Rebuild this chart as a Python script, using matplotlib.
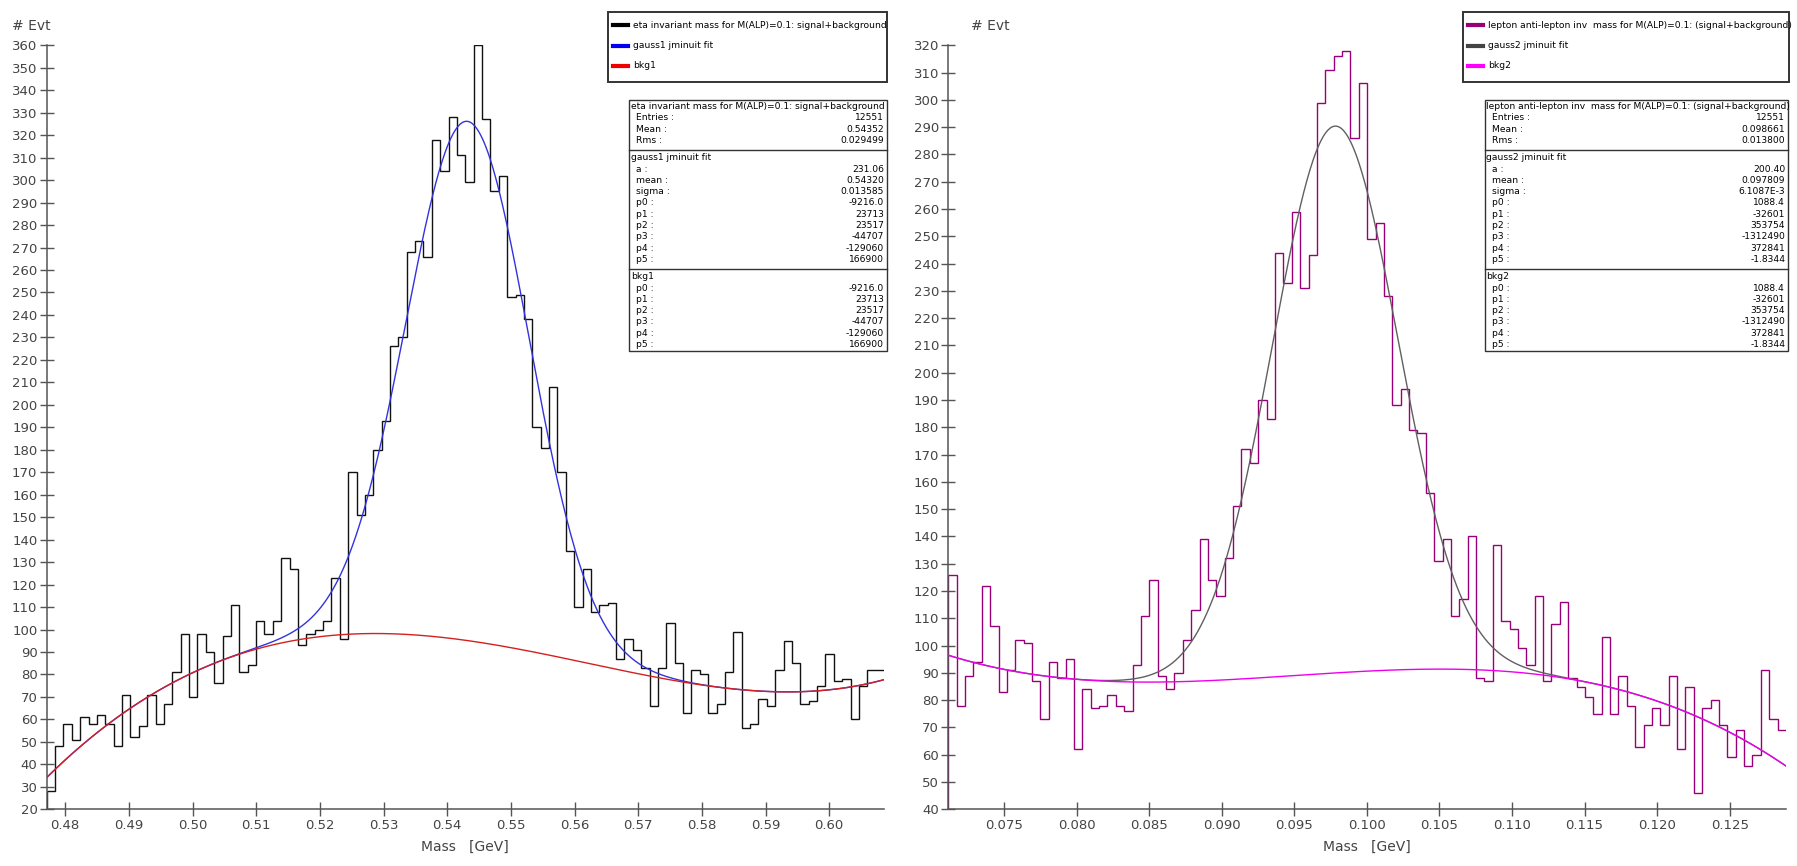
import numpy as np
import matplotlib
matplotlib.use('Agg')
import matplotlib.pyplot as plt
from matplotlib.patches import Rectangle
from matplotlib.lines import Line2D

W, H = 1797, 866

# eta invariant mass histogram (100 bins)
eta_range = (0.4771, 0.6086)
eta_counts = [28, 48, 58, 51, 61, 58, 62, 58, 48, 71,
              52, 57, 71, 58, 67, 81, 98, 70, 98, 90,
              76, 97, 111, 81, 84, 104, 98, 104, 132, 127,
              93, 98, 100, 104, 123, 96, 170, 151, 160, 180,
              193, 226, 230, 268, 273, 266, 318, 304, 328, 311,
              299, 360, 327, 295, 302, 248, 249, 238, 190, 181,
              208, 170, 135, 110, 127, 108, 111, 112, 87, 96,
              91, 83, 66, 83, 103, 85, 63, 82, 80, 63,
              67, 81, 99, 56, 58, 69, 66, 82, 95, 85,
              67, 68, 75, 89, 77, 78, 60, 75, 82, 82]

# lepton anti-lepton invariant mass histogram (100 bins)
lep_range = (0.07116, 0.12888)
lep_counts = [126, 78, 89, 94, 122, 107, 83, 91, 102, 101,
              87, 73, 94, 88, 95, 62, 84, 77, 78, 82,
              78, 76, 93, 111, 124, 89, 84, 90, 102, 113,
              139, 124, 118, 132, 151, 172, 167, 190, 183, 244,
              233, 259, 231, 243, 299, 311, 316, 318, 286, 306,
              249, 255, 228, 188, 194, 179, 178, 156, 131, 139,
              111, 117, 140, 88, 87, 137, 109, 106, 99, 93,
              118, 87, 108, 116, 88, 85, 81, 75, 103, 75,
              89, 78, 63, 71, 77, 71, 89, 62, 85, 46,
              77, 80, 71, 59, 69, 56, 60, 91, 73, 69]

# fit parameters as printed in the stats boxes
gauss1_par = [231.06, 0.54320, 0.013585]
bkg1_par = [-9216.0, 23713, 23517, -44707, -129060, 166900]
gauss2_par = [200.40, 0.097809, 6.1087e-3]
bkg2_par = [1088.4, -32601, 353754, -1312490, 372841, -1.8344]

eta_title = 'eta invariant mass for M(ALP)=0.1: signal+background'
lep_title = 'lepton anti-lepton inv  mass for M(ALP)=0.1: (signal+background)'

eta_stats = [('Entries :', '12551'), ('Mean :', '0.54352'), ('Rms :', '0.029499')]
lep_stats = [('Entries :', '12551'), ('Mean :', '0.098661'), ('Rms :', '0.013800')]
par_names = ['p0 :', 'p1 :', 'p2 :', 'p3 :', 'p4 :', 'p5 :']
bkg1_txt = ['-9216.0', '23713', '23517', '-44707', '-129060', '166900']
bkg2_txt = ['1088.4', '-32601', '353754', '-1312490', '372841', '-1.8344']
gauss1_txt = [('a :', '231.06'), ('mean :', '0.54320'), ('sigma :', '0.013585')]
gauss2_txt = [('a :', '200.40'), ('mean :', '0.097809'), ('sigma :', '6.1087E-3')]

eta_ticks = [0.48, 0.49, 0.50, 0.51, 0.52, 0.53, 0.54, 0.55, 0.56, 0.57, 0.58, 0.59, 0.60]
lep_ticks = [0.075, 0.080, 0.085, 0.090, 0.095, 0.100, 0.105, 0.110, 0.115, 0.120, 0.125]

AXCOL = '#555555'
SMALL = 6.6


def fx(x):
	return x / W


def fy(y):
	return 1 - y / H


def bkg(x, p):
	return np.polyval(p[::-1], x)


def gauss_fit(x, g, p):
	return g[0] * np.exp(-((x - g[1]) / g[2]) ** 2) + bkg(x, p)


def drawPanel(fig, left, right, rng, counts, ylo, yhi, ticks, fmt,
			  hcol, gcol, bcol, gpar, bpar, evt_x):
	ax = fig.add_axes([fx(left), fy(809.3), fx(right - left), (809.3 - 45.3) / H])
	edges = np.linspace(rng[0], rng[1], len(counts) + 1)
	ax.stairs(counts, edges, baseline=None, color=hcol, lw=1.0, zorder=2)
	ax.vlines(edges[0], ylo, counts[0], color=hcol, lw=1.0, zorder=2)
	xs = np.linspace(rng[0], rng[1], 800)
	ax.plot(xs, gauss_fit(xs, gpar, bpar), color=gcol, lw=1.0, zorder=3)
	ax.plot(xs, bkg(xs, bpar), color=bcol, lw=1.0, zorder=4)
	ax.set_xlim(rng)
	ax.set_ylim(ylo, yhi)
	ax.set_xticks(ticks)
	ax.set_xticklabels([fmt % t for t in ticks])
	ax.set_yticks(np.arange(ylo, yhi + 1, 10))
	for s in ['top', 'right']:
		ax.spines[s].set_visible(False)
	for s in ['left', 'bottom']:
		ax.spines[s].set_color(AXCOL)
		ax.spines[s].set_linewidth(1.1)
	ax.tick_params(direction='inout', length=9.4, width=1.0, color=AXCOL,
				   labelcolor='#444444', labelsize=9.5, pad=2)
	fig.text(fx((left + right) / 2), fy(847), 'Mass   [GeV]', ha='center', va='center',
			 fontsize=10, color='#444444')
	fig.text(fx(evt_x), fy(26), '# Evt', ha='left', va='center', fontsize=10, color='#444444')
	return ax


def drawLegend(fig, x0, x1, entries):
	fig.patches.append(Rectangle((fx(x0), fy(81.7)), fx(x1 - x0), (81.7 - 12.3) / H,
								 transform=fig.transFigure, fill=False, ec='#333333', lw=1.4))
	for i, (label, col) in enumerate(entries):
		y = 25 + i * 20.5
		fig.lines.append(Line2D([fx(x0 + 4.5), fx(x0 + 20)], [fy(y), fy(y)],
								transform=fig.transFigure, color=col, lw=3))
		fig.text(fx(x0 + 25), fy(y), label, ha='left', va='center', fontsize=SMALL)


def drawStats(fig, x0, x1, sections):
	top = 100
	y = top + 6.5
	dividers = []
	for k, (title, rows) in enumerate(sections):
		if k > 0:
			dividers.append(y - 11.3 + 9.3)
			y = dividers[-1] + 8
		fig.text(fx(x0 + 1.5), fy(y), title, ha='left', va='center', fontsize=SMALL)
		y += 11.3
		for lab, val in rows:
			fig.text(fx(x0 + 7), fy(y), lab, ha='left', va='center', fontsize=SMALL)
			fig.text(fx(x1 - 3), fy(y), val, ha='right', va='center', fontsize=SMALL)
			y += 11.3
	bottom = y - 11.3 + 6
	fig.patches.append(Rectangle((fx(x0), fy(bottom)), fx(x1 - x0), (bottom - top) / H,
								 transform=fig.transFigure, fill=False, ec='#333333', lw=1.0))
	for d in dividers:
		fig.lines.append(Line2D([fx(x0), fx(x1)], [fy(d), fy(d)],
								transform=fig.transFigure, color='#333333', lw=1.0))


fig = plt.figure(figsize=(W / 100, H / 100), dpi=100)

drawPanel(fig, 46.7, 884.0, eta_range, eta_counts, 20, 360, eta_ticks, '%.2f',
		  '#111111', '#3333dd', '#d42020', gauss1_par, bkg1_par, 12)
drawPanel(fig, 948.3, 1786.0, lep_range, lep_counts, 40, 320, lep_ticks, '%.3f',
		  '#990077', '#606060', '#ee00ee', gauss2_par, bkg2_par, 971)

drawLegend(fig, 608.3, 887.3, [(eta_title, 'black'), ('gauss1 jminuit fit', '#0000ee'),
							   ('bkg1', '#ee0000')])
drawLegend(fig, 1463.3, 1789.0, [(lep_title, '#990077'), ('gauss2 jminuit fit', '#444444'),
								 ('bkg2', '#ff00ff')])

drawStats(fig, 629.3, 887.0, [(eta_title, eta_stats),
							  ('gauss1 jminuit fit', gauss1_txt + list(zip(par_names, bkg1_txt))),
							  ('bkg1', list(zip(par_names, bkg1_txt)))])
drawStats(fig, 1485.0, 1788.3, [(lep_title, lep_stats),
								('gauss2 jminuit fit', gauss2_txt + list(zip(par_names, bkg2_txt))),
								('bkg2', list(zip(par_names, bkg2_txt)))])

fig.savefig('out.png', dpi=100)
